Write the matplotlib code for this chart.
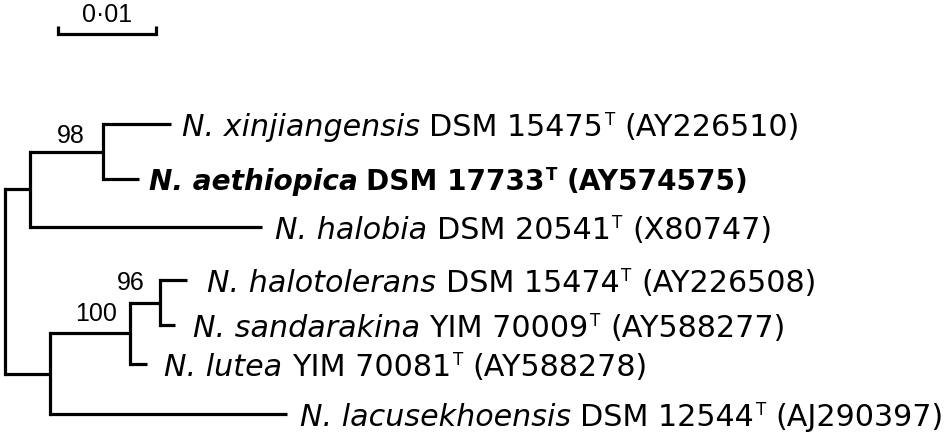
import matplotlib
matplotlib.use('Agg')
import matplotlib.pyplot as plt
from matplotlib.transforms import IdentityTransform

# ---------------- data ----------------
leaf_species = ['N. xinjiangensis', 'N. aethiopica', 'N. halobia', 'N. halotolerans',
                'N. sandarakina', 'N. lutea', 'N. lacusekhoensis']
leaf_strains = ['DSM 15475', 'DSM 17733', 'DSM 20541', 'DSM 15474',
                'YIM 70009', 'YIM 70081', 'DSM 12544']
leaf_accessions = ['AY226510', 'AY574575', 'X80747', 'AY226508',
                   'AY588277', 'AY588278', 'AJ290397']
leaf_parent = ['B', 'B', 'A', 'E', 'E', 'D', 'C']
leaf_branch = [0.0070, 0.0037, 0.0238, 0.0028, 0.0015, 0.0018, 0.0243]
node_names = ['A', 'B', 'C', 'D', 'E']
node_parent = ['root', 'A', 'root', 'C', 'D']
node_branch = [0.0026, 0.0074, 0.0046, 0.0082, 0.0031]
bootstrap_nodes = ['B', 'E', 'D']
bootstrap_values = [98, 96, 100]
highlight = 'N. aethiopica'
scale_value = 0.01
scale_label = '0\u00b701'

# ---------------- layout ----------------
W, H, DPI = 947, 435, 100
PX_PER_UNIT = 9750.0
ROOT_PX = 5
leaf_row_px = [125, 180, 228, 281, 326, 365, 415]
label_gap_px = [11, 10, 13, 20, 18, 17, 13]
boot_offset_px = {'B': (-18, 18), 'E': (-15, 9), 'D': (-13, 18)}
scale_start_px = 58
NUM_FONT = 'Liberation Sans'
LABEL_FONT = 'DejaVu Sans'
NUM_PT = 18
MAIN_PT = 21.7
BOLD_PT = 20.2
SUP_PT = 12
LW = 2.3

fig = plt.figure(figsize=(W / DPI, H / DPI), dpi=DPI)
fig.patch.set_facecolor('white')
ax = fig.add_axes([0, 0, 1, 1])
ax.set_xlim(-ROOT_PX / PX_PER_UNIT, (W - ROOT_PX) / PX_PER_UNIT)
ax.set_ylim(H, 0)
ax.axis('off')

# node x positions
node_x = {'root': 0.0}
for n, p, b in zip(node_names, node_parent, node_branch):
    node_x[n] = node_x[p] + b
leaf_x = [node_x[p] + b for p, b in zip(leaf_parent, leaf_branch)]

# node y positions (midpoint of children)
children = {n: [] for n in ['root'] + node_names}
for n, p in zip(node_names, node_parent):
    children[p].append(('node', n))
for i, p in enumerate(leaf_parent):
    children[p].append(('leaf', i))

node_y = {}
def get_y(kind, key):
    if kind == 'leaf':
        return leaf_row_px[key]
    ys = [get_y(k, c) for k, c in children[key]]
    node_y[key] = (min(ys) + max(ys)) / 2
    return node_y[key]
get_y('node', 'root')

# vertical lines
for n in ['root'] + node_names:
    ys = [get_y(k, c) for k, c in children[n]]
    ax.plot([node_x[n], node_x[n]], [min(ys), max(ys)], color='black', lw=LW,
            solid_capstyle='projecting')
# horizontal branches
for n, p in zip(node_names, node_parent):
    ax.plot([node_x[p], node_x[n]], [node_y[n], node_y[n]], color='black', lw=LW,
            solid_capstyle='butt')
for i, p in enumerate(leaf_parent):
    ax.plot([node_x[p], leaf_x[i]], [leaf_row_px[i], leaf_row_px[i]], color='black', lw=LW,
            solid_capstyle='butt')

# scale bar
sx = (scale_start_px - ROOT_PX) / PX_PER_UNIT
ax.plot([sx, sx, sx + scale_value, sx + scale_value], [27, 35, 35, 27],
        color='black', lw=LW, solid_joinstyle='miter', solid_capstyle='butt')

fig.canvas.draw()
r = fig.canvas.get_renderer()

def put(xd, yd, s, size, family, style='normal', weight='normal', ha='left'):
    t = ax.text(xd, yd, s, transform=IdentityTransform(), va='baseline', ha=ha,
                family=family, fontsize=size, fontstyle=style, fontweight=weight,
                color='black')
    return t.get_window_extent(r).x1

# scale label
cx, _ = ax.transData.transform((sx + scale_value / 2, 0))
put(cx, H - 22, scale_label, NUM_PT, NUM_FONT, ha='center')

# leaf labels
sup_cap = 0.729 * SUP_PT * DPI / 72
for i in range(len(leaf_species)):
    bold = leaf_species[i] == highlight
    pt = BOLD_PT if bold else MAIN_PT
    w = 'bold' if bold else 'normal'
    size_px = pt * DPI / 72
    space = 0.318 * size_px
    cap = 0.729 * size_px
    xd, yd = ax.transData.transform((leaf_x[i], leaf_row_px[i]))
    x = xd + label_gap_px[i]
    base = yd - cap / 2
    x = put(x, base, leaf_species[i], pt, LABEL_FONT, style='italic', weight=w)
    x += space
    x = put(x, base, leaf_strains[i], pt, LABEL_FONT, weight=w)
    x += 1.5
    x = put(x, base + cap - sup_cap + 1.5, 'T', SUP_PT, LABEL_FONT, weight=w)
    x += space
    put(x, base, '(' + leaf_accessions[i] + ')', pt, LABEL_FONT, weight=w)

# bootstrap values
for n, v in zip(bootstrap_nodes, bootstrap_values):
    ys = [get_y(k, c) for k, c in children[n]]
    xd, yd = ax.transData.transform((node_x[n], min(ys)))
    dx, dy = boot_offset_px[n]
    put(xd + dx, yd - dy, str(v), NUM_PT, NUM_FONT, ha='right')

fig.savefig('out.png', dpi=DPI, facecolor='white')
